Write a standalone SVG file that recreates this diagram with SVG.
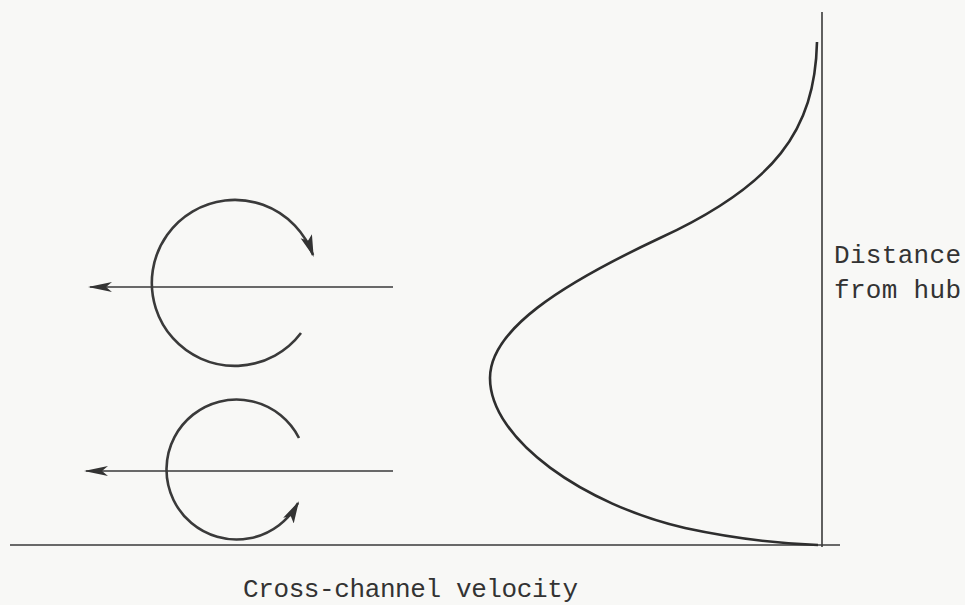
<svg xmlns="http://www.w3.org/2000/svg" width="965" height="605" viewBox="0 0 965 605">
<style>
.axis{stroke:#3a3a3a;stroke-width:1.6;fill:none}
.flow{stroke:#3a3a3a;stroke-width:1.3;fill:none}
.arc{stroke:#3a3a3a;stroke-width:2.6;fill:none}
.curve{stroke:#2e2e2e;stroke-width:2.6;fill:none}
.lbl{font-family:"Liberation Mono","DejaVu Sans Mono",monospace;fill:#333;font-size:26px}
</style>
<defs>
<marker id="ah" viewBox="0 0 24 12" refX="22" refY="6" markerWidth="24" markerHeight="12" markerUnits="userSpaceOnUse" orient="auto">
<path d="M0,1 L24,6 L0,11 L6,6 Z" fill="#333"/>
</marker>
<marker id="ah2" viewBox="0 0 22 14" refX="20" refY="7" markerWidth="22" markerHeight="14" markerUnits="userSpaceOnUse" orient="auto">
<path d="M0,1 L22,7 L0,13 L5,7 Z" fill="#333"/>
</marker>
</defs>
<rect width="965" height="605" fill="#f8f8f6"/>
<g id="axes">
<line class="axis" x1="10" y1="545" x2="840" y2="545"/>
<line class="axis" x1="822" y1="12" x2="822" y2="547"/>
</g>
<g id="profile">
<path class="curve" d="M817,42 C815,130 775,185 660,238 C560,285 490,330 490,378 C490,440 585,505 685,528 C745,541 792,544 818,545"/>
</g>
<g id="connectors">
<line class="flow" x1="393" y1="287" x2="90" y2="287" marker-end="url(#ah)"/>
<line class="flow" x1="393" y1="471" x2="86" y2="471" marker-end="url(#ah)"/>
</g>
<g id="vortex-upper">
<path class="arc" d="M301,333 A83,83 0 1 1 313,255" marker-end="url(#ah2)"/>
</g>
<g id="vortex-lower">
<path class="arc" d="M299,438 A70,70 0 1 0 298,503" marker-end="url(#ah2)"/>
</g>
<g id="labels">
<text class="lbl" x="834" y="263" textLength="127">Distance</text>
<text class="lbl" x="834" y="298" textLength="127">from hub</text>
<text class="lbl" x="243" y="597" textLength="335">Cross-channel velocity</text>
</g>
</svg>
